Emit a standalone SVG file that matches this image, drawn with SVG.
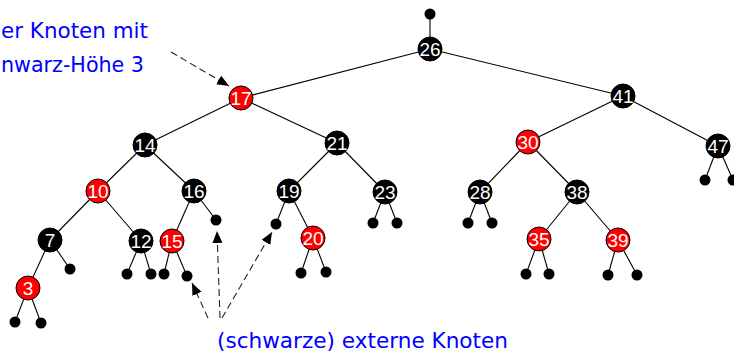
<svg xmlns="http://www.w3.org/2000/svg" width="734" height="352" viewBox="0 0 734 352">
<defs>
<style>
.e{stroke:#000;stroke-width:1.1;fill:none}
.b{fill:#000;stroke:#000;stroke-width:1}
.r{fill:#ff0000;stroke:#000;stroke-width:1}
.lf{fill:#000}
.t{fill:#fff;font-family:"Liberation Sans",Arial,sans-serif;font-size:19px;text-anchor:middle}
.lbl{fill:#0000ff;font-family:"DejaVu Sans",sans-serif;font-size:21.5px}
.d{stroke:#222;stroke-width:1.1;fill:none;stroke-dasharray:7 4;marker-end:url(#ah)}
</style>
<marker id="ah" markerUnits="userSpaceOnUse" markerWidth="14" markerHeight="12" refX="12" refY="5" orient="auto">
<path d="M0,0 L12,5 L0,10 z" fill="#000"/>
</marker>
</defs>
<g id="connectors">
<line class="e" x1="430" y1="14" x2="430" y2="49"/>
<line class="e" x1="430" y1="49" x2="241" y2="98"/>
<line class="e" x1="430" y1="49" x2="623" y2="96"/>
<line class="e" x1="241" y1="98" x2="145" y2="145"/>
<line class="e" x1="241" y1="98" x2="337" y2="143"/>
<line class="e" x1="623" y1="96" x2="528" y2="142"/>
<line class="e" x1="623" y1="96" x2="718" y2="146"/>
<line class="e" x1="145" y1="145" x2="98" y2="191"/>
<line class="e" x1="145" y1="145" x2="194" y2="191"/>
<line class="e" x1="337" y1="143" x2="289" y2="191"/>
<line class="e" x1="337" y1="143" x2="385" y2="192"/>
<line class="e" x1="528" y1="142" x2="480" y2="192"/>
<line class="e" x1="528" y1="142" x2="577" y2="192"/>
<line class="e" x1="718" y1="146" x2="705" y2="180"/>
<line class="e" x1="718" y1="146" x2="733" y2="180"/>
<line class="e" x1="98" y1="191" x2="50" y2="240"/>
<line class="e" x1="98" y1="191" x2="141" y2="241"/>
<line class="e" x1="194" y1="191" x2="172" y2="241"/>
<line class="e" x1="194" y1="191" x2="216" y2="220"/>
<line class="e" x1="289" y1="191" x2="276" y2="224"/>
<line class="e" x1="289" y1="191" x2="313" y2="238"/>
<line class="e" x1="385" y1="192" x2="373" y2="223"/>
<line class="e" x1="385" y1="192" x2="397" y2="223"/>
<line class="e" x1="480" y1="192" x2="468" y2="223"/>
<line class="e" x1="480" y1="192" x2="492" y2="223"/>
<line class="e" x1="577" y1="192" x2="539" y2="239"/>
<line class="e" x1="577" y1="192" x2="618" y2="240"/>
<line class="e" x1="50" y1="240" x2="28" y2="288"/>
<line class="e" x1="50" y1="240" x2="70" y2="269"/>
<line class="e" x1="141" y1="241" x2="127" y2="274"/>
<line class="e" x1="141" y1="241" x2="151" y2="274"/>
<line class="e" x1="172" y1="241" x2="164" y2="274"/>
<line class="e" x1="172" y1="241" x2="187" y2="276"/>
<line class="e" x1="313" y1="238" x2="301" y2="273"/>
<line class="e" x1="313" y1="238" x2="326" y2="272"/>
<line class="e" x1="539" y1="239" x2="526" y2="274"/>
<line class="e" x1="539" y1="239" x2="549" y2="274"/>
<line class="e" x1="618" y1="240" x2="608" y2="275"/>
<line class="e" x1="618" y1="240" x2="637" y2="275"/>
<line class="e" x1="28" y1="288" x2="15" y2="322"/>
<line class="e" x1="28" y1="288" x2="41" y2="323"/>
</g>
<g id="leaves">
<circle class="lf" cx="430" cy="14" r="5.5"/>
<circle class="lf" cx="705" cy="180" r="5.5"/>
<circle class="lf" cx="733" cy="180" r="5.5"/>
<circle class="lf" cx="216" cy="220" r="5.5"/>
<circle class="lf" cx="276" cy="224" r="5.5"/>
<circle class="lf" cx="373" cy="223" r="5.5"/>
<circle class="lf" cx="397" cy="223" r="5.5"/>
<circle class="lf" cx="468" cy="223" r="5.5"/>
<circle class="lf" cx="492" cy="223" r="5.5"/>
<circle class="lf" cx="70" cy="269" r="5.5"/>
<circle class="lf" cx="127" cy="274" r="5.5"/>
<circle class="lf" cx="151" cy="274" r="5.5"/>
<circle class="lf" cx="164" cy="274" r="5.5"/>
<circle class="lf" cx="187" cy="276" r="5.5"/>
<circle class="lf" cx="301" cy="273" r="5.5"/>
<circle class="lf" cx="326" cy="272" r="5.5"/>
<circle class="lf" cx="526" cy="274" r="5.5"/>
<circle class="lf" cx="549" cy="274" r="5.5"/>
<circle class="lf" cx="608" cy="275" r="5.5"/>
<circle class="lf" cx="637" cy="275" r="5.5"/>
<circle class="lf" cx="15" cy="322" r="5.5"/>
<circle class="lf" cx="41" cy="323" r="5.5"/>
</g>
<g id="n26"><circle class="b" cx="430" cy="49" r="12"/><text class="t" x="430" y="56">26</text></g>
<g id="n17"><circle class="r" cx="241" cy="98" r="12"/><text class="t" x="241" y="105">17</text></g>
<g id="n41"><circle class="b" cx="623" cy="96" r="12"/><text class="t" x="623" y="103">41</text></g>
<g id="n14"><circle class="b" cx="145" cy="145" r="12"/><text class="t" x="145" y="152">14</text></g>
<g id="n21"><circle class="b" cx="337" cy="143" r="12"/><text class="t" x="337" y="150">21</text></g>
<g id="n30"><circle class="r" cx="528" cy="142" r="12"/><text class="t" x="528" y="149">30</text></g>
<g id="n47"><circle class="b" cx="718" cy="146" r="12"/><text class="t" x="718" y="153">47</text></g>
<g id="n10"><circle class="r" cx="98" cy="191" r="12"/><text class="t" x="98" y="198">10</text></g>
<g id="n16"><circle class="b" cx="194" cy="191" r="12"/><text class="t" x="194" y="198">16</text></g>
<g id="n19"><circle class="b" cx="289" cy="191" r="12"/><text class="t" x="289" y="198">19</text></g>
<g id="n23"><circle class="b" cx="385" cy="192" r="12"/><text class="t" x="385" y="199">23</text></g>
<g id="n28"><circle class="b" cx="480" cy="192" r="12"/><text class="t" x="480" y="199">28</text></g>
<g id="n38"><circle class="b" cx="577" cy="192" r="12"/><text class="t" x="577" y="199">38</text></g>
<g id="n7"><circle class="b" cx="50" cy="240" r="12"/><text class="t" x="50" y="247">7</text></g>
<g id="n12"><circle class="b" cx="141" cy="241" r="12"/><text class="t" x="141" y="248">12</text></g>
<g id="n15"><circle class="r" cx="172" cy="241" r="12"/><text class="t" x="172" y="248">15</text></g>
<g id="n20"><circle class="r" cx="313" cy="238" r="12"/><text class="t" x="313" y="245">20</text></g>
<g id="n35"><circle class="r" cx="539" cy="239" r="12"/><text class="t" x="539" y="246">35</text></g>
<g id="n39"><circle class="r" cx="618" cy="240" r="12"/><text class="t" x="618" y="247">39</text></g>
<g id="n3"><circle class="r" cx="28" cy="288" r="12"/><text class="t" x="28" y="295">3</text></g>
<g id="annotations">
<line class="d" x1="171" y1="52" x2="229" y2="86"/>
<line class="d" x1="208" y1="318" x2="192" y2="283"/>
<line class="d" x1="220" y1="318" x2="217" y2="231"/>
<line class="d" x1="222" y1="318" x2="272" y2="232"/>
<text class="lbl" x="1" y="38" textLength="147" lengthAdjust="spacingAndGlyphs">er Knoten mit</text>
<text class="lbl" x="1" y="72" textLength="143" lengthAdjust="spacingAndGlyphs">nwarz-Höhe 3</text>
<text class="lbl" x="217" y="348" textLength="291" lengthAdjust="spacingAndGlyphs">(schwarze) externe Knoten</text>
</g>
</svg>
